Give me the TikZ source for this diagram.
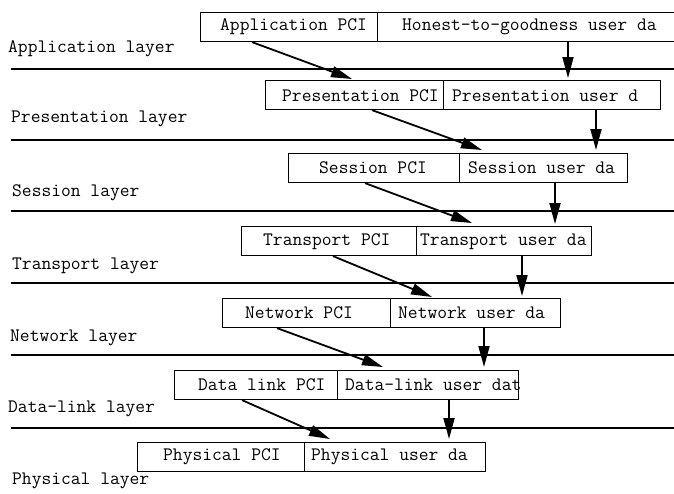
\documentclass[tikz,border=0pt]{standalone}
\usepackage{fontspec}
\usetikzlibrary{arrows.meta,calc}
\tikzset{
  layerline/.style={line width=2pt},
  box/.style={draw, line width=1.1pt, anchor=north west, inner sep=0pt, minimum height=29pt},
  txt/.style={anchor=west, inner sep=0pt, font=\ttfamily\fontsize{19}{22}\selectfont},
  lbl/.style={anchor=west, inner sep=0pt, font=\ttfamily\fontsize{19}{22}\selectfont},
  arr/.style={line width=1.8pt, -{Triangle[length=21pt,width=11pt]}, shorten >=0pt}
}
\begin{document}
\begin{tikzpicture}[x=1pt,y=-1pt]
\useasboundingbox (0,0) rectangle (674,493);
\begin{scope}
\clip (0,0) rectangle (674,493);
% layer lines
\coordinate (l1a) at (11,69);  \coordinate (l1b) at (674,69);
\coordinate (l2a) at (11,140); \coordinate (l2b) at (674,140);
\coordinate (l3a) at (11,211); \coordinate (l3b) at (674,211);
\coordinate (l4a) at (11,283); \coordinate (l4b) at (674,283);
\coordinate (l5a) at (11,355); \coordinate (l5b) at (674,355);
\coordinate (l6a) at (11,428); \coordinate (l6b) at (674,428);
\foreach \i in {1,...,6} \draw[layerline] (l\i a) -- (l\i b);

% layer labels
\node[lbl] (lapp) at (8,49) {Application layer};
\node[lbl] (lpre) at (11,119) {Presentation layer};
\node[lbl] (lses) at (12,193) {Session layer};
\node[lbl] (ltra) at (12,266) {Transport layer};
\node[lbl] (lnet) at (10,338) {Network layer};
\node[lbl] (ldl)  at (8,409) {Data-link layer};
\node[lbl] (lphy) at (12,481) {Physical layer};

% row 1
\node[box, minimum width=177pt] (apci) at (200,12) {};
\node[box, minimum width=320pt] (audata) at (377,12) {};
\node[txt] (tapci) at (220,27) {Application PCI};
\node[txt] (taud) at (402,27) {Honest-to-goodness user da};
% row 2
\node[box, minimum width=178pt] (ppci) at (265,80) {};
\node[box, minimum width=217pt] (pud) at (443,80) {};
\begin{scope}
\clip (ppci.south west) rectangle (ppci.north east);
\node[txt] (tppci) at (282,96) {Presentation PCI};
\end{scope}
\node[txt] (tpud) at (452,96) {Presentation user d};
% row 3
\node[box, minimum width=171pt] (spci) at (288,153) {};
\node[box, minimum width=168pt] (sud) at (459,153) {};
\node[txt] (tspci) at (319,168) {Session PCI};
\node[txt] (tsud) at (468,168) {Session user da};
% row 4
\node[box, minimum width=175pt] (tpci) at (241,226) {};
\node[box, minimum width=175pt] (tud) at (416,226) {};
\node[txt] (ttpci) at (263,242) {Transport PCI};
\node[txt] (ttud) at (420,242) {Transport user da};
% row 5
\node[box, minimum width=168pt] (npci) at (222,298) {};
\node[box, minimum width=170pt] (nud) at (390,298) {};
\node[txt] (tnpci) at (245,313) {Network PCI};
\node[txt] (tnud) at (398,313) {Network user da};
% row 6
\node[box, minimum width=163pt] (dpci) at (174,370) {};
\node[box, minimum width=181pt] (dud) at (337,370) {};
\node[txt] (tdpci) at (198,385) {Data link PCI};
\node[txt] (tdud) at (345,385) {Data-link user dat};
% row 7
\node[box, minimum width=167pt] (phpci) at (137,442) {};
\node[box, minimum width=181pt] (phud) at (304,442) {};
\node[txt] (tphpci) at (163,457) {Physical PCI};
\node[txt] (tphud) at (311,457) {Physical user da};

% diagonal arrows (PCI)
\draw[arr] ($(apci.south west)+(52,0)$) -- ($(ppci.north west)+(87,-1)$);
\draw[arr] ($(ppci.south west)+(107,0)$) -- ($(sud.north west)+(23,-3)$);
\draw[arr] ($(spci.south west)+(77,0)$) -- ($(tud.north west)+(56,-3)$);
\draw[arr] ($(tpci.south west)+(92,0)$) -- ($(nud.north west)+(42,-1)$);
\draw[arr] ($(npci.south west)+(55,0)$) -- ($(dud.north west)+(46,-3)$);
\draw[arr] ($(dpci.south west)+(68,0)$) -- ($(phud.north west)+(26,-3)$);

% vertical arrows (user data)
\draw[arr] ($(audata.south west)+(191,0)$) -- ($(pud.north west)+(125,-2)$);
\draw[arr] ($(pud.south west)+(153,0)$) -- ($(sud.north west)+(137,-3)$);
\draw[arr] ($(sud.south west)+(96,0)$) -- ($(tud.north west)+(139,-2)$);
\draw[arr] ($(tud.south west)+(106,0)$) -- ($(nud.north west)+(132,-2)$);
\draw[arr] ($(nud.south west)+(94,0)$) -- ($(dud.north west)+(147,-3)$);
\draw[arr] ($(dud.south west)+(112,0)$) -- ($(phud.north west)+(145,-3)$);
\end{scope}
\end{tikzpicture}
\end{document}
